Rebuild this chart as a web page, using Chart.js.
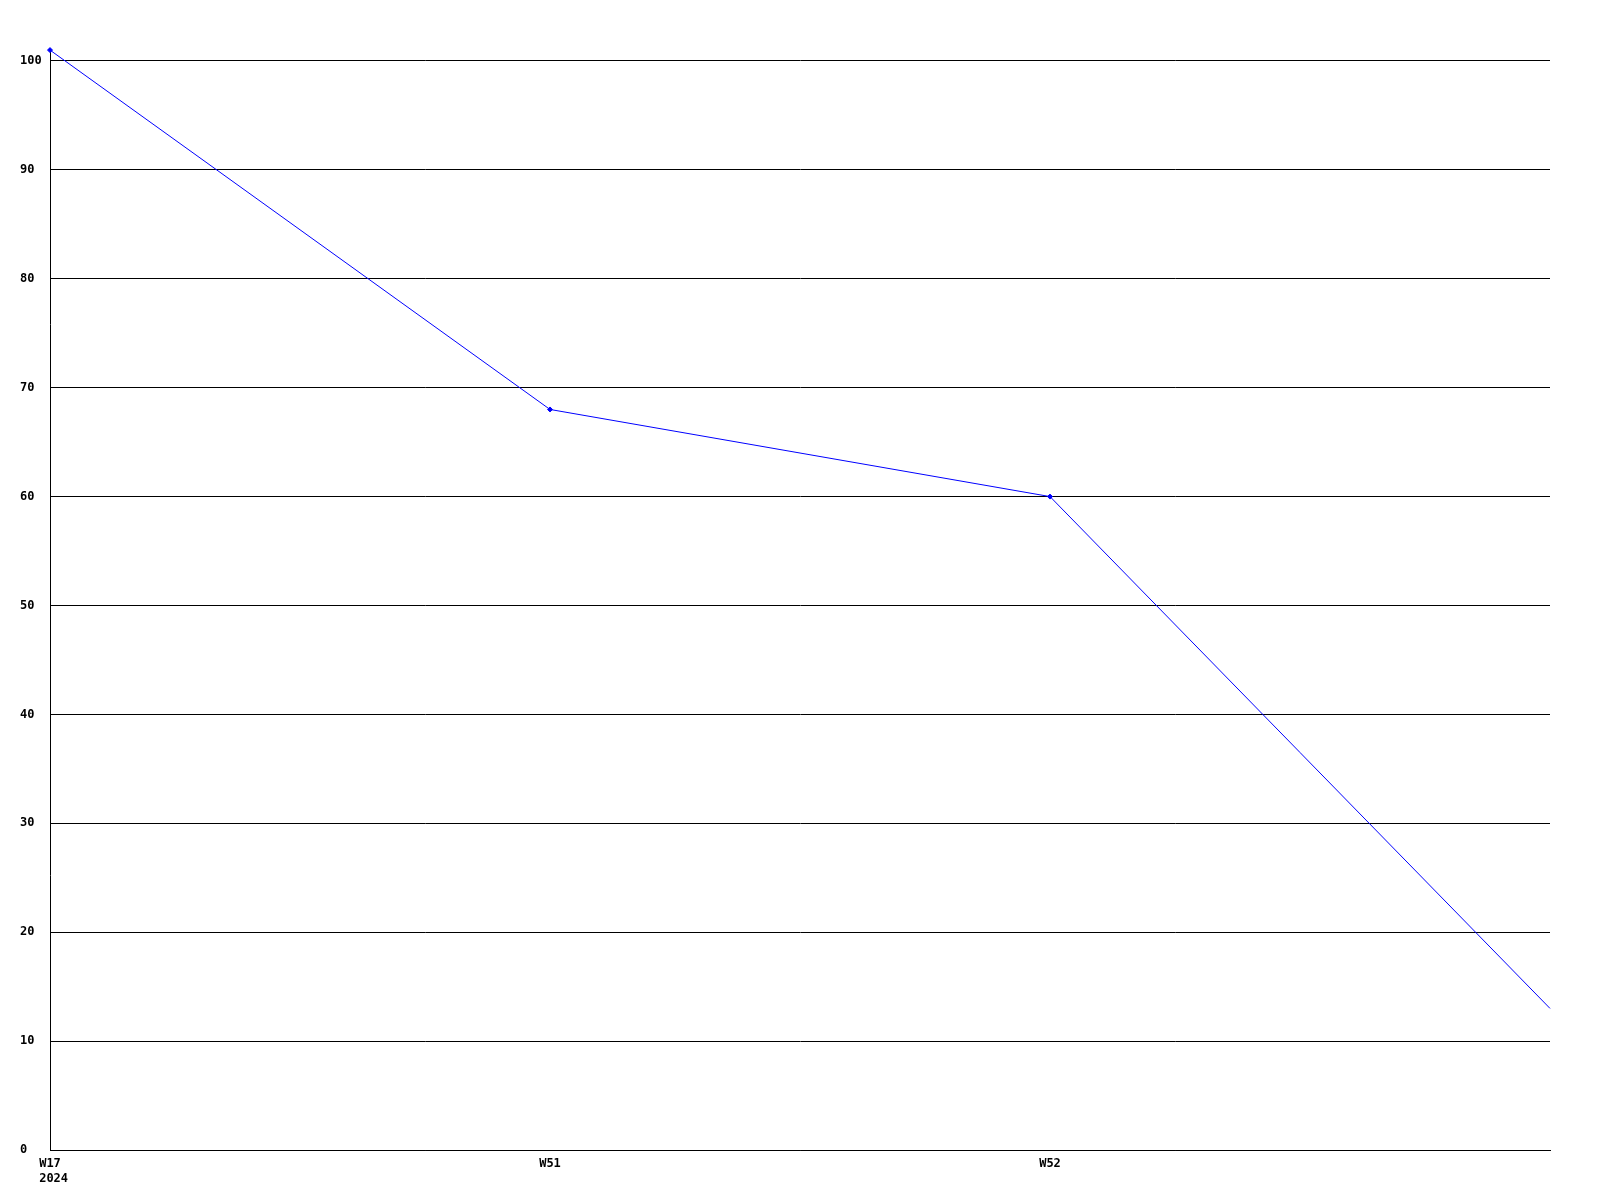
<!DOCTYPE html>
<html>
<head>
<meta charset="utf-8">
<script src="https://cdn.jsdelivr.net/npm/chart.js@4"></script>
<style>
    html, body { margin: 0; padding: 0; background: #ffffff; }
    #wrap { width: 1600px; height: 1200px; }
</style>
</head>
<body>
<div id="wrap"><canvas id="burndown"></canvas></div>
<script>
// 数据
const weekLabels = [['W17', ' 2024'], 'W51', 'W52', ''];
const remaining = [101, 68, 60, 13];
const markerSizes = [2.5, 2.5, 2.5, 0];
const yTicks = [0, 10, 20, 30, 40, 50, 60, 70, 80, 90, 100];

const tickFont = { family: '"DejaVu Sans Mono", monospace', size: 12, weight: 'bold' };

const ctx = document.getElementById('burndown').getContext('2d');

new Chart(ctx, {
    type: 'line',
    data: {
        labels: weekLabels,
        datasets: [{
            data: remaining,
            borderColor: '#0000ff',
            backgroundColor: '#0000ff',
            borderWidth: 1,
            tension: 0,
            fill: false,
            clip: false,
            pointStyle: 'rectRot',
            pointRadius: markerSizes,
            pointBorderWidth: 1
        }]
    },
    options: {
        responsive: true,
        maintainAspectRatio: false,
        animation: false,
        layout: {
            padding: { left: 20, right: 50, top: 49, bottom: 0 }
        },
        plugins: {
            legend: { display: false },
            tooltip: { enabled: false }
        },
        scales: {
            x: {
                offset: false,
                grid: { display: false, drawTicks: false },
                border: { display: true, color: '#000000', width: 1 },
                ticks: {
                    color: '#000000',
                    font: tickFont,
                    padding: 7,
                    maxRotation: 0,
                    autoSkip: false
                },
                afterFit: scale => { scale.height = 50; }
            },
            y: {
                min: 0,
                max: 101.1,
                grid: { color: '#000000', lineWidth: 1, drawTicks: false },
                border: { display: true, color: '#000000', width: 1 },
                ticks: {
                    color: '#000000',
                    font: tickFont,
                    stepSize: 10,
                    crossAlign: 'far'
                },
                afterBuildTicks: scale => {
                    scale.ticks = yTicks.map(v => ({ value: v }));
                },
                afterFit: scale => { scale.width = 30; }
            }
        }
    }
});
</script>
</body>
</html>
